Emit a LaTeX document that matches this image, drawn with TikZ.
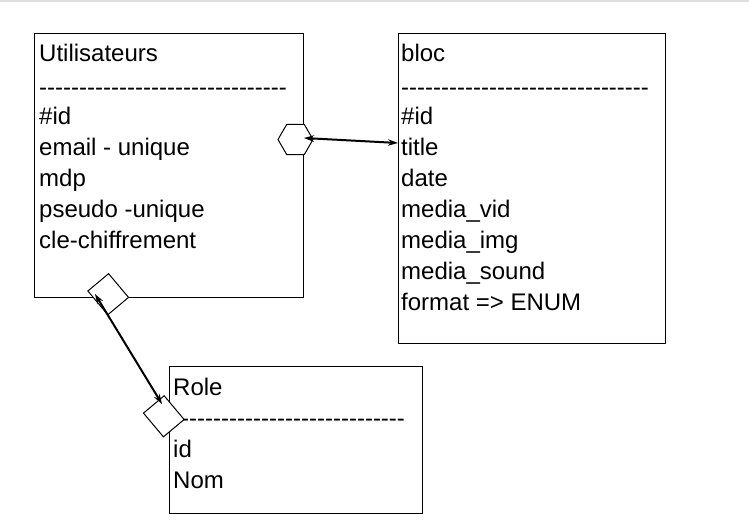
\documentclass[tikz,border=0pt]{standalone}
\usepackage{fontspec}
\setmainfont{Liberation Sans}
\usetikzlibrary{shapes.geometric,arrows.meta}
\newcommand\dashrow[1]{\foreach \k in {1,...,#1}{-\kern0pt}}
\begin{document}
\begin{tikzpicture}[x=1pt,y=-1pt,
  entity/.style={draw=black, line width=1.2pt, inner sep=0pt, anchor=north west},
  lbl/.style={anchor=base west, inner sep=0pt, font=\fontsize{24}{28}\selectfont},
  link/.style={line width=2pt, {Stealth[length=10pt,width=6.5pt]}-{Stealth[length=10pt,width=6.5pt]}},
  endbox/.style={draw, fill=white, line width=1pt, minimum width=31pt, minimum height=27pt, inner sep=0pt, rotate=-50},
  hexa/.style={regular polygon, regular polygon sides=6, draw, fill=white, line width=1pt, minimum size=35pt, inner sep=0pt}]
\useasboundingbox (0,0) rectangle (749,528);
\draw[gray!25, line width=1.5pt] (0,0.75) -- (749,0.75);
% entities
\node[entity, minimum width=269pt, minimum height=264pt] (users) at (34,33) {};
\node[entity, minimum width=267pt, minimum height=310pt] (bloc) at (398,33) {};
\node[entity, minimum width=253pt, minimum height=147pt] (role) at (169,366) {};
% Utilisateurs
\node[lbl] (u0) at (39,61) {Utilisateurs};
\node[lbl] (u1) at (39,95.5) {\dashrow{31}};
\node[lbl] (u2) at (39,124.5) {\#id};
\node[lbl] (u3) at (39,155.5) {email - unique};
\node[lbl] (u4) at (39,186.5) {mdp};
\node[lbl] (u5) at (39,217.5) {pseudo -unique};
\node[lbl] (u6) at (39,248.5) {cle-chiffrement};
% bloc
\node[lbl] (b0) at (401,61.5) {bloc};
\node[lbl] (b1) at (401,95.5) {\dashrow{31}};
\node[lbl] (b2) at (401,124.5) {\#id};
\node[lbl] (b3) at (401,155.5) {title};
\node[lbl] (b4) at (401,186.5) {date};
\node[lbl] (b5) at (401,217.5) {media\_vid};
\node[lbl] (b6) at (401,248.5) {media\_img};
\node[lbl] (b7) at (401,279.5) {media\_sound};
\node[lbl] (b8) at (401,310.5) {format => ENUM};
% Role
\node[lbl] (r0) at (173,395) {Role};
\node[lbl] (r1) at (173,426) {\dashrow{29}};
\node[lbl] (r2) at (173,457) {id};
\node[lbl] (r3) at (173,488) {Nom};
% relation ends
\node[hexa] (hx) at (295.5,139.5) {};
\node[endbox] (d1) at (108.2,294.2) {};
\node[endbox] (d2) at (163.8,416.3) {};
% connectors
\coordinate (hxtip) at (304,138);
\coordinate (bloctip) at (398,143);
\coordinate (d1tip) at (95,294);
\coordinate (d2tip) at (162,404);
\draw[link] (hxtip) -- (bloctip);
\draw[link] (d1tip) -- (d2tip);
\end{tikzpicture}
\end{document}
